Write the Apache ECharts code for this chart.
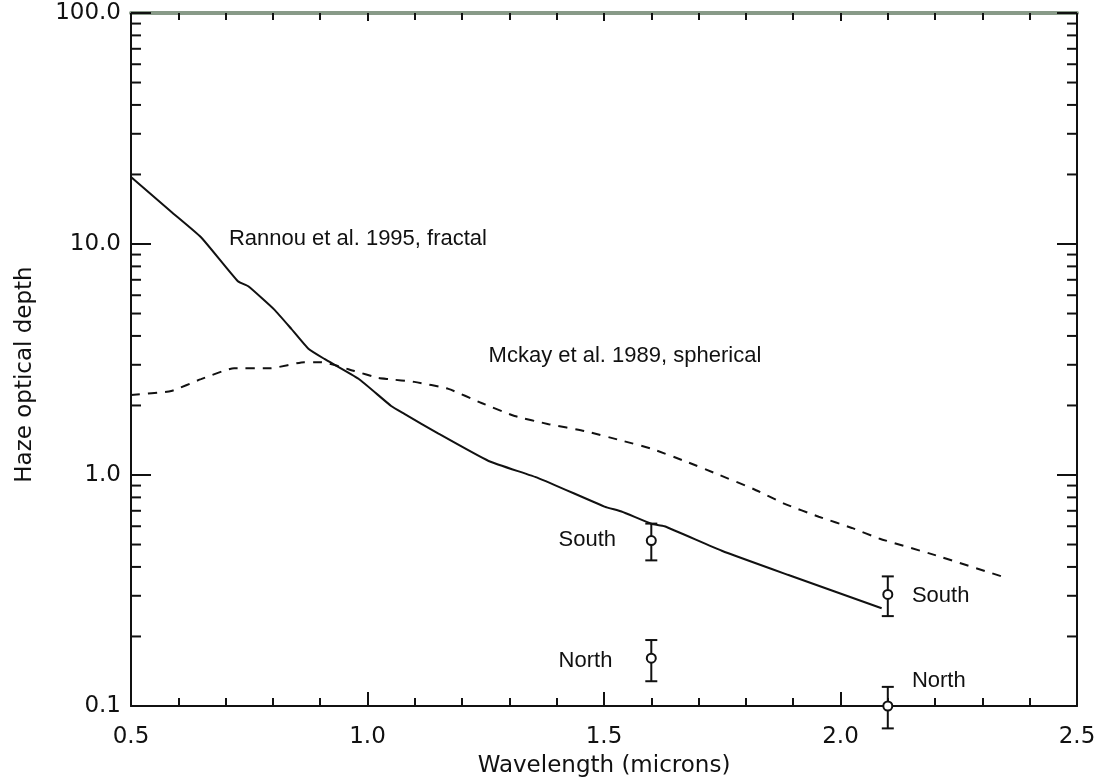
<!DOCTYPE html>
<html>
<head>
<meta charset="utf-8">
<script src="https://cdn.jsdelivr.net/npm/echarts@6/dist/echarts.min.js"></script>
<style>
  html, body { margin: 0; padding: 0; background: #fff; }
  #chart { width: 1101px; height: 783px; }
</style>
</head>
<body>
<div id="chart"></div>
<script>
// Rannou et al. 1995, fractal (solid)
var wlRannou  = [0.50, 0.585, 0.648, 0.726, 0.748, 0.803, 0.839, 0.875, 0.909, 0.981, 1.05, 1.078, 1.15, 1.256, 1.361, 1.501, 1.537, 1.60, 1.628, 1.749, 1.89, 2.087];
var tauRannou = [19.5, 13.8, 10.7, 6.9, 6.56, 5.2, 4.29, 3.52, 3.18, 2.61, 1.99, 1.84, 1.51, 1.15, 0.97, 0.73, 0.695, 0.615, 0.60, 0.47, 0.369, 0.265];

// Mckay et al. 1989, spherical (dashed)
var wlMckay  = [0.50, 0.585, 0.648, 0.718, 0.796, 0.866, 0.902, 0.972, 1.023, 1.044, 1.099, 1.171, 1.241, 1.311, 1.383, 1.459, 1.537, 1.60, 1.675, 1.744, 1.816, 1.882, 1.954, 2.024, 2.083, 2.20, 2.341];
var tauMckay = [2.22, 2.31, 2.60, 2.90, 2.90, 3.08, 3.08, 2.82, 2.63, 2.60, 2.53, 2.36, 2.05, 1.80, 1.66, 1.55, 1.41, 1.30, 1.14, 1.00, 0.87, 0.75, 0.66, 0.59, 0.53, 0.45, 0.364];

// measurements with error bars
var obsWl   = [1.6, 1.6, 2.1, 2.1];
var obsTau  = [0.52, 0.161, 0.304, 0.1];
var obsLow  = [0.427, 0.128, 0.245, 0.080];
var obsHigh = [0.616, 0.193, 0.364, 0.121];

// annotations (left edge, vertical centre, in data units)
var noteText = ['Rannou et al. 1995, fractal', 'Mckay et al. 1989, spherical', 'South', 'North', 'South', 'North'];
var noteWl   = [0.707, 1.256, 1.404, 1.404, 2.151, 2.151];
var noteTau  = [10.5, 3.28, 0.526, 0.156, 0.301, 0.128];

var xTicks = [0.5, 1.0, 1.5, 2.0, 2.5];
var yTicks = [0.1, 1, 10, 100];

// minor ticks of the log axis: 2..9 in each decade
var yMinor = [];
for (var d = 0; d < yTicks.length - 1; d++) {
    for (var k = 2; k <= 9; k++) yMinor.push(k * yTicks[d]);
}

var ink = '#111';
var font = 'DejaVu Sans';

function zip(a, b) {
    var out = [];
    for (var i = 0; i < a.length; i++) out.push([a[i], b[i]]);
    return out;
}

var obsData = [];
for (var i = 0; i < obsWl.length; i++) obsData.push([obsWl[i], obsTau[i], obsLow[i], obsHigh[i]]);

var noteData = [];
for (var i = 0; i < noteText.length; i++) noteData.push({name: noteText[i], value: [noteWl[i], noteTau[i]]});

var chart = echarts.init(document.getElementById('chart'));

var xBase = {
    type: 'value',
    min: xTicks[0],
    max: xTicks[xTicks.length - 1],
    interval: 0.5,
    splitLine: {show: false},
    axisLine: {lineStyle: {color: ink, width: 2}},
    axisTick: {inside: true, length: 14, lineStyle: {color: ink, width: 2}},
    minorTick: {show: true, splitNumber: 5, length: 8, lineStyle: {color: ink, width: 2}},
    minorSplitLine: {show: false}
};
var yBase = {
    type: 'log',
    logBase: 10,
    min: yTicks[0],
    max: yTicks[yTicks.length - 1],
    splitLine: {show: false},
    axisLine: {lineStyle: {color: ink, width: 2}},
    axisTick: {inside: true, length: 20, lineStyle: {color: ink, width: 2}},
    minorTick: {show: false}
};

option = {
    backgroundColor: '#fff',
    animation: false,
    grid: {left: 131, right: 24, top: 13, bottom: 75},
    xAxis: [
        Object.assign({}, xBase, {
            position: 'bottom',
            name: 'Wavelength (microns)',
            nameLocation: 'middle',
            nameGap: 49,
            nameTextStyle: {fontFamily: font, fontSize: 23, color: ink},
            axisLabel: {
                fontFamily: font, fontSize: 23, color: ink, margin: 20,
                formatter: function (v) { return v.toFixed(1); }
            }
        }),
        Object.assign({}, xBase, {
            position: 'top',
            axisLine: {lineStyle: {color: '#889a88', width: 4}},
            axisTick: {inside: true, length: 8, lineStyle: {color: ink, width: 2}},
            minorTick: {show: true, splitNumber: 5, length: 7, lineStyle: {color: ink, width: 2}},
            axisLabel: {show: false}
        })
    ],
    yAxis: [
        Object.assign({}, yBase, {
            position: 'left',
            name: 'Haze optical depth',
            nameLocation: 'middle',
            nameGap: 94,
            nameRotate: 90,
            nameTextStyle: {fontFamily: font, fontSize: 23, color: ink, padding: [0, 30, 0, 0]},
            axisLabel: {
                fontFamily: font, fontSize: 23, color: ink, margin: 10,
                formatter: function (v) { return v.toFixed(1); }
            }
        }),
        Object.assign({}, yBase, {
            position: 'right',
            axisLabel: {show: false}
        })
    ],
    series: [
        {
            name: 'Rannou',
            type: 'line',
            data: zip(wlRannou, tauRannou),
            symbol: 'none',
            smooth: 0.15,
            lineStyle: {color: ink, width: 2}
        },
        {
            name: 'Mckay',
            type: 'line',
            data: zip(wlMckay, tauMckay),
            symbol: 'none',
            smooth: 0.15,
            lineStyle: {color: ink, width: 2, type: [9, 8]}
        },
        {
            name: 'obs',
            type: 'custom',
            clip: false,
            data: obsData,
            encode: {x: 0, y: [1, 2, 3]},
            renderItem: function (params, api) {
                var x = api.value(0);
                var pc = api.coord([x, api.value(1)]);
                var pl = api.coord([x, api.value(2)]);
                var ph = api.coord([x, api.value(3)]);
                var st = {stroke: ink, lineWidth: 2, fill: null};
                return {
                    type: 'group',
                    children: [
                        {type: 'line', shape: {x1: pl[0], y1: pl[1], x2: ph[0], y2: ph[1]}, style: st},
                        {type: 'line', shape: {x1: pl[0] - 6, y1: pl[1], x2: pl[0] + 6, y2: pl[1]}, style: st},
                        {type: 'line', shape: {x1: ph[0] - 6, y1: ph[1], x2: ph[0] + 6, y2: ph[1]}, style: st},
                        {type: 'circle', shape: {cx: pc[0], cy: pc[1], r: 4.5}, style: {stroke: ink, lineWidth: 2, fill: '#fff'}}
                    ]
                };
            }
        },
        {
            name: 'minor',
            type: 'custom',
            silent: true,
            data: yMinor,
            encode: {y: 0},
            renderItem: function (params, api) {
                var cs = params.coordSys;
                var y = api.coord([xTicks[0], api.value(0)])[1];
                var st = {stroke: ink, lineWidth: 2};
                return {
                    type: 'group',
                    children: [
                        {type: 'line', shape: {x1: cs.x, y1: y, x2: cs.x + 10, y2: y}, style: st},
                        {type: 'line', shape: {x1: cs.x + cs.width - 10, y1: y, x2: cs.x + cs.width, y2: y}, style: st}
                    ]
                };
            }
        },
        {
            name: 'notes',
            type: 'scatter',
            symbolSize: 0,
            silent: true,
            itemStyle: {opacity: 1},
            data: noteData,
            label: {
                show: true,
                opacity: 1,
                position: [0, 0],
                align: 'left',
                verticalAlign: 'middle',
                fontFamily: 'Liberation Sans',
                fontSize: 22,
                color: ink,
                formatter: function (p) { return p.name; }
            }
        }
    ]
};

chart.setOption(option);
</script>
</body>
</html>
